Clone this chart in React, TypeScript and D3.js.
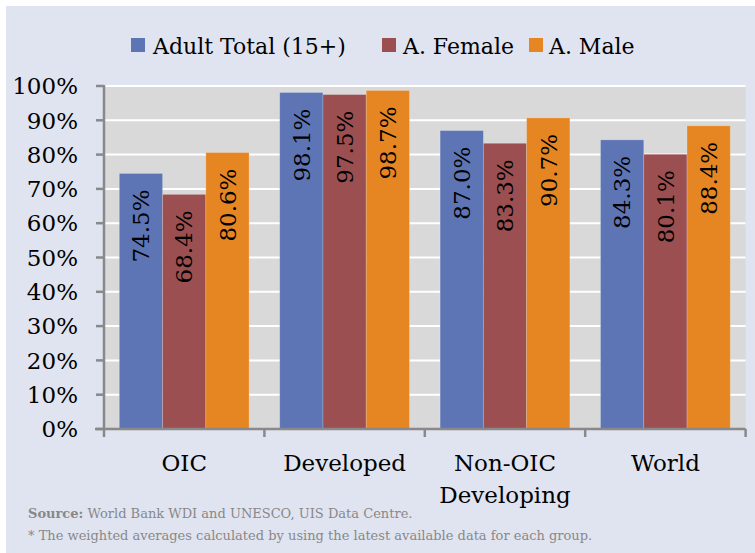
import React from "react";
import * as d3 from "d3";

const categories = ["OIC", "Developed", "Non-OIC Developing", "World"];
const categoryLines = [["OIC"], ["Developed"], ["Non-OIC", "Developing"], ["World"]];
const seriesNames = ["Adult Total (15+)", "A. Female", "A. Male"];
const adultTotal = [74.5, 98.1, 87.0, 84.3];
const female = [68.4, 97.5, 83.3, 80.1];
const male = [80.6, 98.7, 90.7, 88.4];
const yTicks = [0, 10, 20, 30, 40, 50, 60, 70, 80, 90, 100];
const colors = ["#5e75b5", "#9c4f50", "#e68622"];

const W = 755;
const H = 553;
const plotLeft = 104;
const plotRight = 745.6;
const plotTop = 86;
const plotBottom = 429;
const serif = "'DejaVu Serif', serif";

function SText(props: { x: number; y: number; sx: number; size: number; anchor?: string; fill?: string; children: React.ReactNode; dy?: string }) {
  const { x, y, sx, size, anchor, fill, children, dy } = props;
  return (
    <text
      transform={`translate(${x},${y}) scale(${sx},1)`}
      textAnchor={anchor || "start"}
      dy={dy}
      fontFamily={serif}
      fontSize={size}
      fill={fill || "#000"}
    >
      {children}
    </text>
  );
}

export default function App() {
  const series = [adultTotal, female, male];
  const y = d3.scaleLinear().domain([0, 100]).range([plotBottom, plotTop]);
  const x0 = d3.scaleBand<string>().domain(categories).range([plotLeft, plotRight]).padding(0);
  const bw = x0.bandwidth();
  const pad = bw * 0.0955;
  const x1 = d3.scaleBand<string>().domain(seriesNames).range([pad, bw - pad]).padding(0);
  const axisColor = "#898989";
  const legendItems = [
    { sq: 131, tx: 153 },
    { sq: 382, tx: 403 },
    { sq: 529, tx: 549 },
  ];
  return (
    <svg width={W} height={H} style={{ position: "absolute", left: 0, top: 0 }}>
      <rect x={0} y={0} width={W} height={H} fill="#ffffff" />
      <rect x={6} y={6} width={W - 6} height={H - 6} fill="#e0e4f0" />
      <rect x={plotLeft} y={plotTop - 1} width={plotRight - plotLeft} height={plotBottom - plotTop + 1} fill="#d9d9d9" />
      {yTicks.slice(1).map((t) => (
        <line key={t} x1={plotLeft} x2={plotRight} y1={y(t)} y2={y(t)} stroke="#ffffff" strokeWidth={2} />
      ))}
      {categories.map((c, ci) => (
        <g key={c} transform={`translate(${x0(c)},0)`}>
          {seriesNames.map((s, si) => {
            const v = series[si][ci];
            const bx = x1(s)!;
            const top = y(v);
            return (
              <g key={s}>
                <rect x={bx} y={top} width={x1.bandwidth()} height={plotBottom - top} fill={colors[si]} stroke="rgba(255,255,255,0.25)" strokeWidth={0.8} />
                <text
                  transform={`translate(${bx + x1.bandwidth() / 2},${top + 16}) rotate(-90)`}
                  textAnchor="end"
                  dy="0.36em"
                  fontFamily={serif}
                  fontSize={23}
                  fill="#000"
                >
                  {v.toFixed(1)}%
                </text>
              </g>
            );
          })}
        </g>
      ))}
      {/* y axis */}
      <line x1={plotLeft} x2={plotLeft} y1={plotTop - 1} y2={plotBottom + 8} stroke={axisColor} strokeWidth={2.5} />
      {yTicks.map((t) => (
        <g key={t}>
          <line x1={96} x2={plotLeft} y1={y(t)} y2={y(t)} stroke={axisColor} strokeWidth={2.5} />
          <SText x={78} y={y(t)} sx={1} size={23} anchor="end" dy="0.36em">
            {t}%
          </SText>
        </g>
      ))}
      {/* x axis */}
      <line x1={95} x2={plotRight} y1={plotBottom} y2={plotBottom} stroke={axisColor} strokeWidth={2.5} />
      {categories.map((c) => (
        <line key={c} x1={x0(c)! + bw} x2={x0(c)! + bw} y1={plotBottom} y2={plotBottom + 8} stroke={axisColor} strokeWidth={2.5} />
      ))}
      {categories.map((c, ci) => (
        <g key={c}>
          {categoryLines[ci].map((ln, li) => (
            <SText key={li} x={x0(c)! + bw / 2} y={471 + li * 32} sx={1} size={23} anchor="middle">
              {ln}
            </SText>
          ))}
        </g>
      ))}
      {/* legend */}
      {seriesNames.map((s, si) => (
        <g key={s}>
          <rect x={legendItems[si].sq} y={38} width={14} height={14} fill={colors[si]} />
          <SText x={legendItems[si].tx} y={54} sx={1} size={22}>
            {s}
          </SText>
        </g>
      ))}
      {/* footer */}
      <SText x={28} y={518} sx={1} size={13} fill="#888888">
        <tspan fontWeight="bold">Source:</tspan> World Bank WDI and UNESCO, UIS Data Centre.
      </SText>
      <SText x={28} y={540} sx={1} size={13} fill="#888888">
        * The weighted averages calculated by using the latest available data for each group.
      </SText>
    </svg>
  );
}
